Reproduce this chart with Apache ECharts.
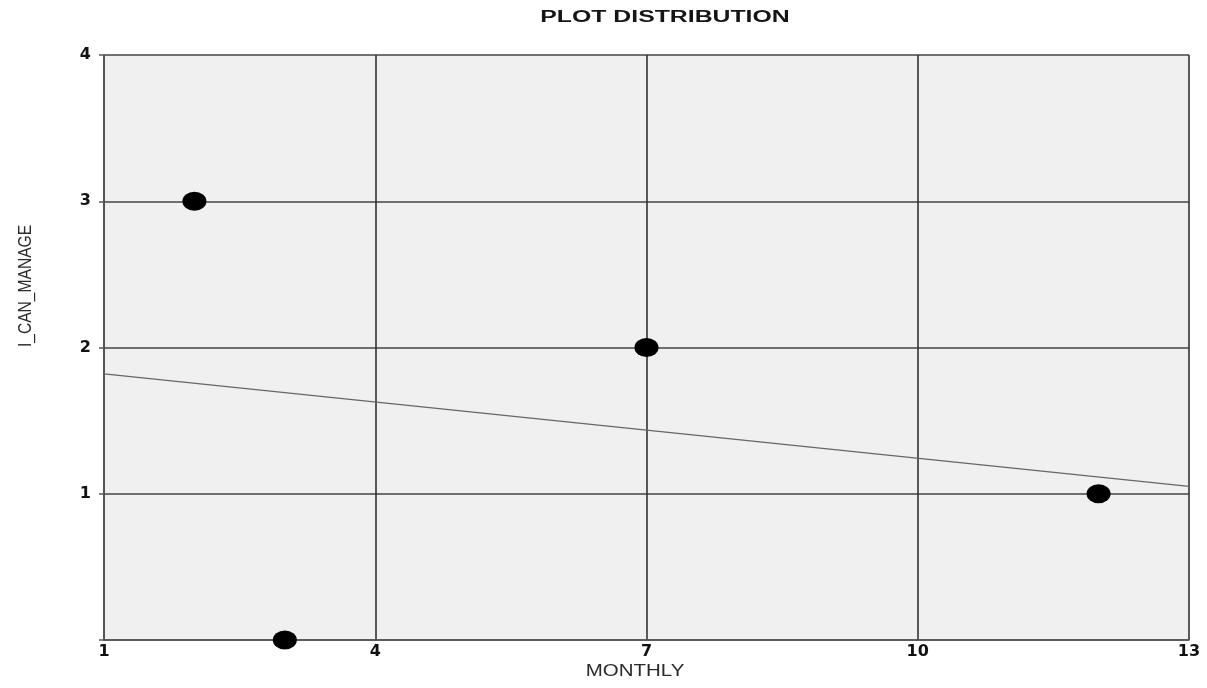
<!DOCTYPE html>
<html>
<head>
<meta charset="utf-8">
<script src="https://cdn.jsdelivr.net/npm/echarts@6/dist/echarts.min.js"></script>
<style>
  html, body { margin: 0; padding: 0; background: #fff; }
  #chart { width: 1207px; height: 688px; }
</style>
</head>
<body>
<div id="chart"></div>
<script>
// scatter points (MONTHLY, I_CAN_MANAGE)
const monthly = [2, 3, 7, 12];
const canManage = [3, 0, 2, 1];
// fitted line end points
const fitX = [1, 13];
const fitY = [1.82, 1.05];

const chart = echarts.init(document.getElementById('chart'));

// the source image is stretched, so texts get a scale to match it
const option = {
  backgroundColor: '#fff',
  animation: false,
  graphic: [
    {
      type: 'text', x: 665, y: 17.5, scaleX: 1.55,
      style: {
        text: 'PLOT DISTRIBUTION', align: 'center', verticalAlign: 'middle',
        font: 'bold 16px "Liberation Sans"', fill: '#151515'
      }
    },
    {
      type: 'text', x: 635, y: 672, scaleX: 1.28,
      style: {
        text: 'MONTHLY', align: 'center', verticalAlign: 'middle',
        font: '16px "Liberation Sans"', fill: '#2a2a2a'
      }
    },
    {
      type: 'text', x: 26, y: 286, rotation: Math.PI / 2, scaleX: 1.2, scaleY: 1.4,
      style: {
        text: 'I_CAN_MANAGE', align: 'center', verticalAlign: 'middle',
        font: '13px "Liberation Sans"', fill: '#2a2a2a'
      }
    }
  ],
  grid: {
    left: 104, right: 18, top: 55, bottom: 48,
    show: true,
    backgroundColor: '#f0f0f0',
    borderWidth: 0
  },
  xAxis: {
    type: 'value',
    min: 1, max: 13, interval: 3,
    axisLine: { show: true, lineStyle: { color: '#555', width: 1.5 } },
    axisTick: { show: false },
    axisLabel: { fontFamily: 'DejaVu Sans', fontSize: 16, fontWeight: 'bold', color: '#111', margin: 4 },
    splitLine: { show: true, lineStyle: { color: '#333', width: 1.6 } }
  },
  yAxis: {
    type: 'value',
    min: 0, max: 4, interval: 1,
    axisLine: { show: true, lineStyle: { color: '#555', width: 1.5 } },
    axisTick: { show: true, length: 5, lineStyle: { color: '#555', width: 1.5 } },
    axisLabel: {
      fontFamily: 'DejaVu Sans', fontSize: 16, fontWeight: 'bold', color: '#111', margin: 13,
      formatter: v => (v === 0 ? '' : String(v))
    },
    splitLine: { show: true, lineStyle: { color: '#444', width: 1.6 } }
  },
  series: [
    {
      type: 'line',
      data: fitX.map((x, i) => [x, fitY[i]]),
      symbol: 'none',
      lineStyle: { color: '#666', width: 1.2 },
      z: 2
    },
    {
      type: 'scatter',
      data: monthly.map((x, i) => [x, canManage[i]]),
      symbol: 'circle',
      symbolSize: [24, 19],
      itemStyle: { color: '#000', opacity: 1 },
      z: 3
    }
  ]
};

chart.setOption(option);
</script>
</body>
</html>
